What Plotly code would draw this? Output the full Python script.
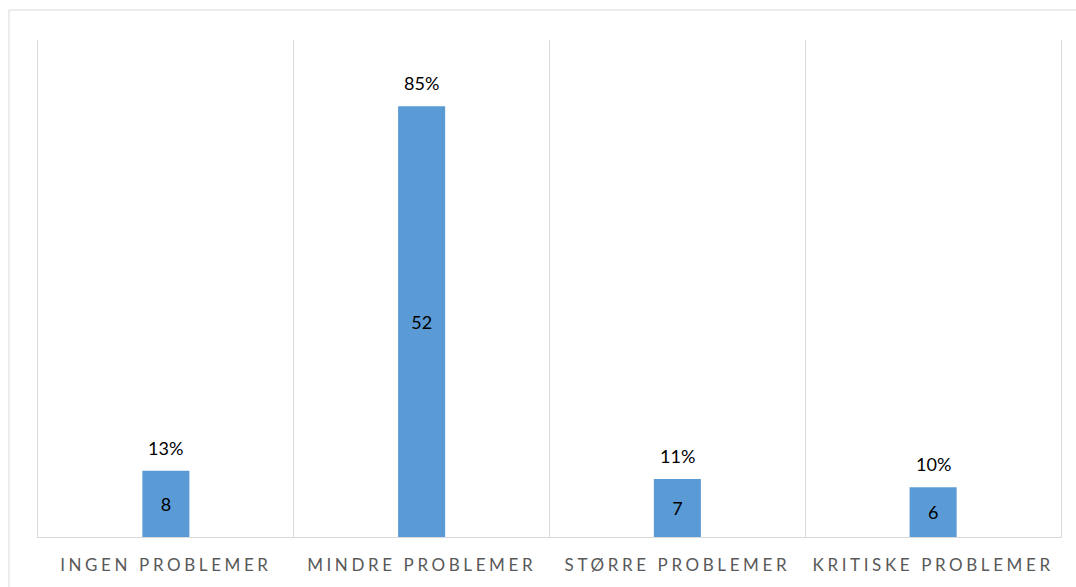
import plotly.graph_objects as go

categories = ["INGEN PROBLEMER", "MINDRE PROBLEMER", "STØRRE PROBLEMER", "KRITISKE PROBLEMER"]
counts = [8, 52, 7, 6]
percent_labels = ["13%", "85%", "11%", "10%"]

FONT = "Lato, Open Sans, sans-serif"

fig = go.Figure()
fig.add_trace(go.Bar(
    x=categories, y=counts,
    marker=dict(color="#5b9bd5", line=dict(width=0)),
    text=[str(c) for c in counts],
    textposition="inside", insidetextanchor="middle",
    textfont=dict(family=FONT, size=18, color="#000000"),
    textangle=0,
    hoverinfo="skip",
))

annotations = []
for c, v, p in zip(categories, counts, percent_labels):
    annotations.append(dict(x=c, y=v, xref="x", yref="y", text=p, showarrow=False,
                            yanchor="middle", yshift=23,
                            font=dict(family=FONT, size=18, color="#000000")))

fig.update_layout(
    width=1076, height=587,
    margin=dict(l=38, r=15, t=40, b=50),
    paper_bgcolor="white", plot_bgcolor="white",
    bargap=0.816,
    showlegend=False,
    annotations=annotations,
    xaxis=dict(
        type="category",
        tickson="boundaries",
        showgrid=True, gridcolor="#d9d9d9", gridwidth=1,
        showline=True, linecolor="#d9d9d9", linewidth=1,
        ticks="", ticklen=0, ticklabelstandoff=13,
        tickfont=dict(family=FONT, size=17, color="#595959"),
    ),
    yaxis=dict(range=[0, 60], showticklabels=False, showgrid=False, zeroline=False,
               showline=True, mirror=True, linecolor="#d9d9d9", linewidth=1, ticks=""),
    shapes=[dict(type="rect", xref="paper", yref="paper",
                 x0=-0.0284, x1=1.03, y0=-0.11, y1=1.0604,
                 line=dict(color="#d9d9d9", width=1), fillcolor="rgba(0,0,0,0)", layer="below")],
)

post = """
var st = document.createElement('style');
st.innerHTML = '.xtick text { letter-spacing: 3.6px; }';
document.head.appendChild(st);
"""
fig.write_html("out.html", post_script=post)
